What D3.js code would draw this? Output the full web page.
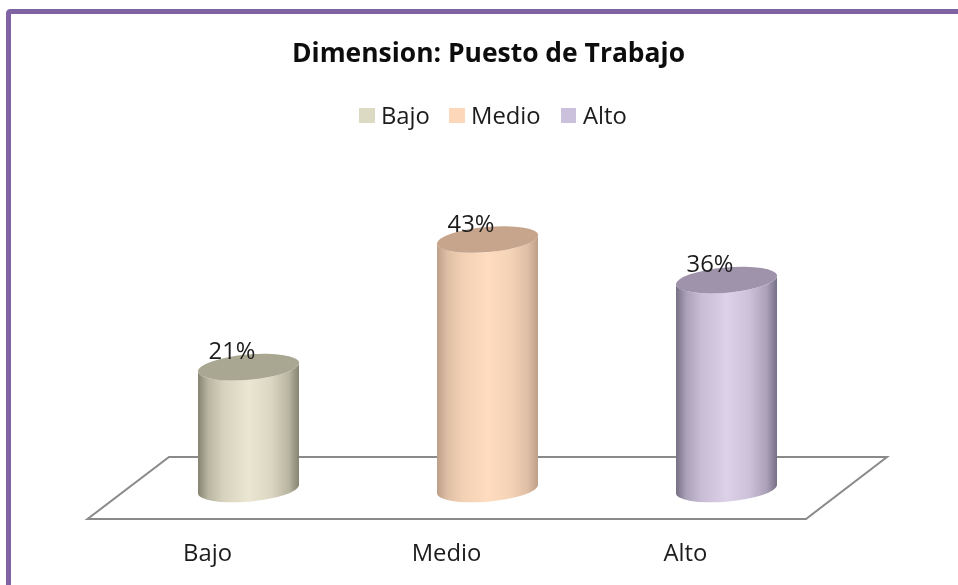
<!DOCTYPE html>
<html>
<head>
<meta charset="utf-8">
<script src="https://cdnjs.cloudflare.com/ajax/libs/d3/7.8.5/d3.min.js"></script>
<style>
html,body{margin:0;padding:0;background:#fff}
svg{display:block}
text{font-family:"Open Sans","Noto Sans",sans-serif;fill:#1c1c1c}
</style>
</head>
<body>
<svg id="c" width="958" height="585"></svg>
<script>
const chartTitle = "Dimension: Puesto de Trabajo";
const categories = ["Bajo", "Medio", "Alto"];
const values = [21, 43, 36];
const valueLabels = ["21%", "43%", "36%"];
const swatchColors = ["#dddac3", "#fdd7b9", "#ccc1dc"];
const topColors = ["#a9a792", "#c6a58c", "#9f92ab"];
const edgeColors = ["#858471", "#bd9f88", "#767084"];
const midColors = ["#ebe6d1", "#ffdcbf", "#ddd0e9"];

const root = d3.select("#c");
const defs = root.append("defs");
defs.append("filter").attr("id", "soft")
  .attr("filterUnits", "userSpaceOnUse")
  .attr("x", 0).attr("y", 0).attr("width", 958).attr("height", 585)
  .append("feGaussianBlur").attr("stdDeviation", 0.4);
const svg = root.append("g").attr("filter", "url(#soft)");

const W = 958, H = 585;
const x = d3.scalePoint().domain(categories).range([248.5, 726.5]);
const y = d3.scaleLinear().domain([0, 43]).range([489, 239.5]);
const rx = 50.5, ry = 12.6, tilt = -5, dy = 4.2;

// frame
svg.append("path")
  .attr("d", `M${W + 4},11.5 H10.5 Q8.5,11.5 8.5,13.5 V${H + 4}`)
  .attr("fill", "none").attr("stroke", "#8064a2").attr("stroke-width", 5);

// title
svg.append("text").attr("x", 488.5).attr("y", 62)
  .attr("text-anchor", "middle").attr("font-size", 26.2).attr("font-weight", 700)
  .attr("textLength", 393).attr("lengthAdjust", "spacingAndGlyphs")
  .style("fill", "#0c0c0c").text(chartTitle);

// legend
const legendX = [359, 449, 561];
const legend = svg.selectAll("g.leg").data(categories).join("g").attr("class", "leg")
  .attr("transform", (d, i) => `translate(${legendX[i]},108)`);
legend.append("rect").attr("width", (d, i) => i === 2 ? 15 : 16).attr("height", 15)
  .attr("fill", (d, i) => swatchColors[i]);
legend.append("text").attr("x", 22).attr("y", 15.5).attr("font-size", 23.8).text(d => d);

// floor
svg.append("path")
  .attr("d", "M87.5,519 L169,457 H887 L806,519 Z")
  .attr("fill", "#fff").attr("stroke", "#8a8a8a").attr("stroke-width", 2)
  .attr("stroke-linejoin", "miter");

// gradients
categories.forEach((c, i) => {
  const g = defs.append("linearGradient").attr("id", "g" + i)
    .attr("x1", 0).attr("x2", 1).attr("y1", 0).attr("y2", 0);
  const mix = d3.interpolateRgb(edgeColors[i], midColors[i]);
  const stops = [[0, edgeColors[i]], [0.1, mix(0.5)], [0.25, mix(0.8)],
                 [0.5, midColors[i]], [0.72, mix(0.85)], [0.9, mix(0.5)], [1, edgeColors[i]]];
  g.selectAll("stop").data(stops).join("stop")
    .attr("offset", d => d[0]).attr("stop-color", d => d[1]);
});

// cylinders
const cyl = svg.selectAll("g.cyl").data(values).join("g").attr("class", "cyl");
cyl.append("path")
  .attr("fill", (d, i) => `url(#g${i})`)
  .attr("d", (d, i) => {
    const cx = x(categories[i]), t = y(d), b = y(0);
    const L = cx - rx, R = cx + rx;
    return `M${L},${t + dy} L${L},${b + dy}` +
      ` A${rx},${ry} ${tilt} 0 0 ${R},${b - dy}` +
      ` L${R},${t - dy}` +
      ` A${rx},${ry} ${tilt} 0 1 ${L},${t + dy} Z`;
  });
cyl.append("ellipse")
  .attr("cx", (d, i) => x(categories[i])).attr("cy", d => y(d))
  .attr("rx", rx + 0.3).attr("ry", ry)
  .attr("transform", (d, i) => `rotate(${tilt} ${x(categories[i])} ${y(d)})`)
  .attr("fill", (d, i) => topColors[i]);

// value labels
svg.selectAll("text.val").data(values).join("text").attr("class", "val")
  .attr("x", (d, i) => x(categories[i]) - 16.5)
  .attr("y", d => y(d) - 8)
  .attr("text-anchor", "middle").attr("font-size", 23.8)
  .text((d, i) => valueLabels[i]);

// category labels
svg.selectAll("text.cat").data(categories).join("text").attr("class", "cat")
  .attr("x", d => x(d) - 41)
  .attr("y", 561)
  .attr("text-anchor", "middle").attr("font-size", 23.8)
  .text(d => d);
</script>
</body>
</html>
